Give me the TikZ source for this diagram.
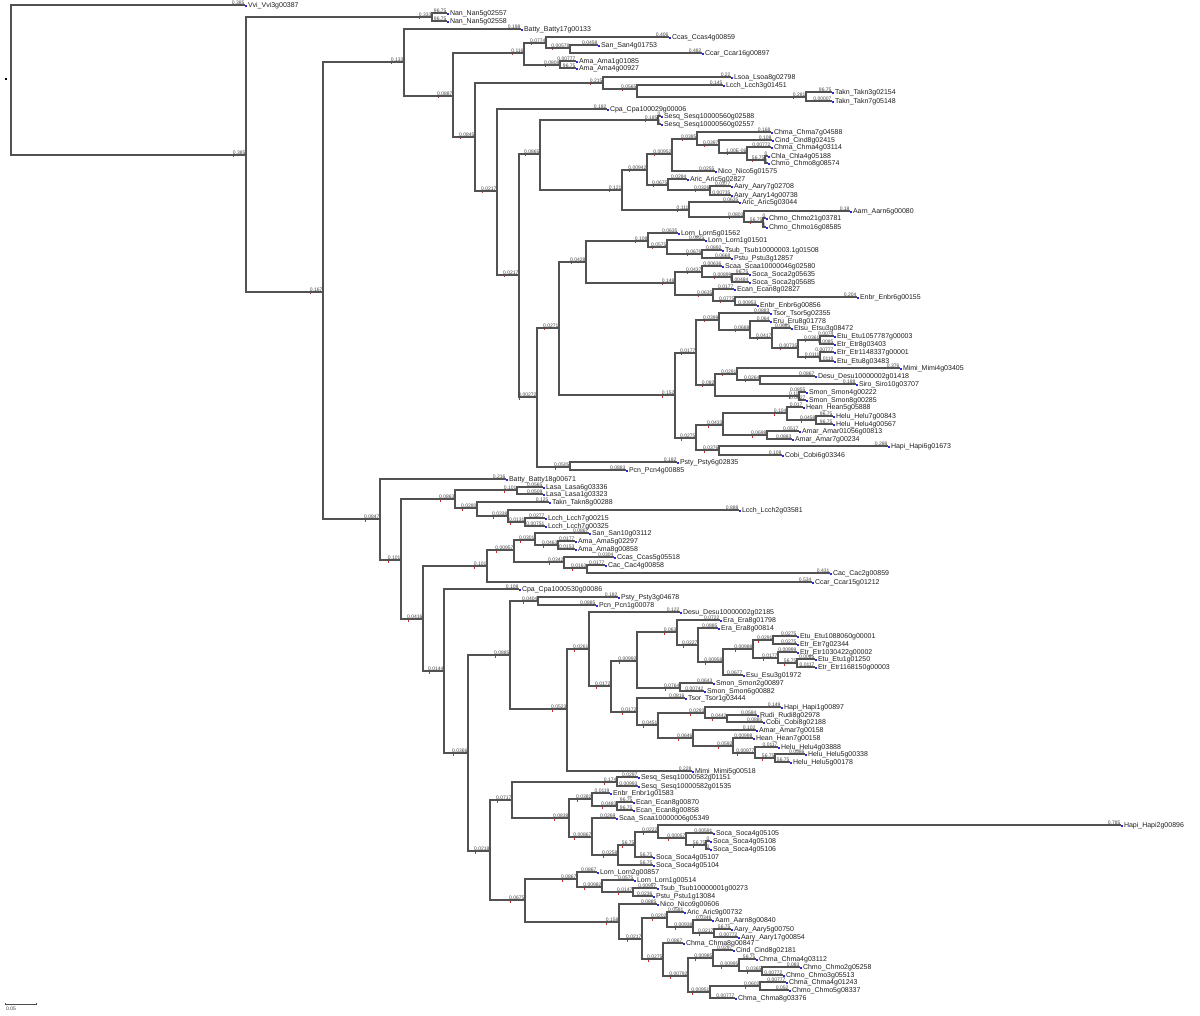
\documentclass[tikz,border=0pt]{standalone}
\usepackage{fontspec}
\setmainfont{Liberation Sans}
\definecolor{leafblue}{RGB}{40,40,220}
\definecolor{tickred}{RGB}{210,40,40}
\tikzset{
  br/.style={draw=black!68, line width=1.15pt},
  blab/.style={font=\fontsize{5}{5}\selectfont, text=black!75, inner sep=0.3pt, anchor=south east},
  ltxt/.style={font=\fontsize{7}{7}\selectfont, text=black!88, inner sep=0pt, anchor=mid west},
}
\newcommand\Tnode[5]{%
  \coordinate (#2) at (#3,#4);
  \draw[br] (#1) |- (#2);
  \node[blab] (#2l) at (#2) {#5};
  \fill[tickred] ([shift={(0.8pt,-0.9pt)}]#2l.south west) rectangle ++(0.9pt,-1.6pt);
}
\newcommand\Tleaf[6]{%
  \coordinate (#2) at (#3,#4);
  \draw[br] (#1) |- (#2);
  \node[blab] (#2l) at (#2) {#5};
  \node[ltxt] (#2t) at (#2) {\textcolor{leafblue}{\rule[0.3pt]{2.2pt}{2.2pt}}\hspace{0.6pt}#6};
}
\begin{document}
\begin{tikzpicture}[x=1pt,y=-1pt]
\fill[white] (0,0) rectangle (1200,1016);
\useasboundingbox (0,0) rectangle (1200,1016);
\coordinate (root) at (11,80);
\node[fill=black, inner sep=0pt, minimum size=2.4pt] (rootmark) at (6,79) {};
\Tleaf{root}{vvi}{245}{5}{0.385}{Vvi\_Vvi3g00387}
\Tnode{root}{A}{246}{155}{0.385}
\Tnode{A}{B}{432}{17}{0.333}
\Tleaf{B}{nan1}{447}{13}{96.75}{Nan\_Nan5g02557}
\Tleaf{B}{nan2}{447}{21}{96.75}{Nan\_Nan5g02558}
\Tnode{A}{C}{323}{292}{0.167}
\Tnode{C}{D}{404}{62}{0.133}
\Tleaf{D}{bat1}{521}{29}{0.198}{Batty\_Batty17g00133}
\Tnode{D}{E}{453}{96}{0.0887}
\Tnode{E}{F}{524}{53}{0.116}
\Tnode{F}{G}{546}{43}{0.0774}
\Tleaf{G}{ccas1}{669}{37}{0.406}{Ccas\_Ccas4g00859}
\Tnode{G}{GA}{570}{48}{0.00578}
\Tleaf{GA}{san1}{598}{45}{0.0458}{San\_San4g01753}
\Tleaf{GA}{ccar1}{702}{53}{0.482}{Ccar\_Ccar16g00897}
\Tnode{F}{GB}{560}{65}{0.0808}
\Tleaf{GB}{ama1}{576}{61}{0.00777}{Ama\_Ama1g01085}
\Tleaf{GB}{ama2}{576}{68}{96.75}{Ama\_Ama4g00927}
\Tnode{E}{I}{475}{137}{0.0845}
\Tnode{I}{K}{603}{83}{0.215}
\Tleaf{K}{lsoa1}{731}{77}{0.22}{Lsoa\_Lsoa8g02798}
\Tnode{K}{KA}{637}{89}{0.0565}
\Tleaf{KA}{lcch1}{723}{85}{0.145}{Lcch\_Lcch3g01451}
\Tnode{KA}{KB}{806}{97}{0.281}
\Tleaf{KB}{tak1}{832}{92}{96.75}{Takn\_Takn3g02154}
\Tleaf{KB}{tak2}{832}{101}{0.00007}{Takn\_Takn7g05148}
\Tnode{I}{J}{497}{191}{0.0217}
\Tleaf{J}{cpa1}{607}{109}{0.182}{Cpa\_Cpa100029g00006}
\Tnode{J}{M}{519}{275}{0.0217}
\Tnode{M}{N}{540}{154}{0.0865}
\Tnode{N}{SQ}{658}{120}{0.185}
\Tleaf{SQ}{sesq1}{661}{116}{0}{Sesq\_Sesq10000560g02588}
\Tleaf{SQ}{sesq2}{661}{124}{0}{Sesq\_Sesq10000560g02557}
\Tnode{N}{O}{622}{190}{0.121}
\Tnode{O}{P}{647}{170}{0.00942}
\Tnode{P}{T}{672}{154}{0.00952}
\Tnode{T}{U}{697}{139}{0.0385}
\Tleaf{U}{chma1}{771}{132}{0.168}{Chma\_Chma7g04588}
\Tnode{U}{V}{719}{145}{0.0397}
\Tleaf{V}{cind1}{772}{140}{0.108}{Cind\_Cind8g02415}
\Tnode{V}{W}{747}{153}{1.00E-06}
\Tleaf{W}{chma2}{771}{147}{0.00772}{Chma\_Chma4g03114}
\Tnode{W}{X}{765}{160}{56.75}
\Tleaf{X}{chla1}{768}{156}{0}{Chla\_Chla4g05188}
\Tleaf{X}{chmo1}{768}{163}{0}{Chmo\_Chmo8g08574}
\Tleaf{T}{nico1}{715}{171}{0.0255}{Nico\_Nico5g01575}
\Tnode{P}{Y}{668}{185}{0.0675}
\Tleaf{Y}{aric1}{687}{179}{0.0284}{Aric\_Aric5g02827}
\Tnode{Y}{Z}{710}{190}{0.0326}
\Tleaf{Z}{aary1}{731}{186}{0.0377}{Aary\_Aary7g02708}
\Tleaf{Z}{aary2}{731}{195}{0.00735}{Aary\_Aary14g00738}
\Tnode{O}{Q}{689}{210}{0.111}
\Tleaf{Q}{aric2}{739}{202}{0.0635}{Aric\_Aric5g03044}
\Tnode{Q}{R}{744}{217}{0.0803}
\Tleaf{R}{aarn1}{850}{211}{0.18}{Aarn\_Aarn6g00080}
\Tnode{R}{S}{763}{222}{56.75}
\Tleaf{S}{chmo2}{766}{218}{0}{Chmo\_Chmo21g03781}
\Tleaf{S}{chmo3}{766}{227}{0}{Chmo\_Chmo16g08585}
\Tnode{M}{AJ}{537}{397}{0.00272}
\Tnode{AJ}{AA}{559}{328}{0.0271}
\Tnode{AA}{AB}{586}{262}{0.0428}
\Tnode{AB}{AC}{648}{241}{0.108}
\Tleaf{AC}{lorn1}{678}{233}{0.0635}{Lorn\_Lorn5g01562}
\Tnode{AC}{AD}{667}{247}{0.0575}
\Tleaf{AD}{lorn2}{705}{240}{0.0825}{Lorn\_Lorn1g01501}
\Tnode{AD}{AE}{702}{254}{0.0676}
\Tleaf{AE}{tsub1}{722}{250}{0.0892}{Tsub\_Tsub10000003.1g01508}
\Tleaf{AE}{pstu1}{731}{258}{0.0668}{Pstu\_Pstu3g12857}
\Tnode{AB}{AF}{675}{283}{0.148}
\Tnode{AF}{AG}{702}{272}{0.0437}
\Tleaf{AG}{scaa1}{722}{266}{0.00636}{Scaa\_Scaa10000046g02580}
\Tnode{AG}{AGb}{732}{277}{0.00899}
\Tleaf{AGb}{soca1}{749}{274}{96.75}{Soca\_Soca2g05635}
\Tleaf{AGb}{soca2}{749}{282}{0.00484}{Soca\_Soca2g05685}
\Tnode{AF}{AH}{713}{295}{0.0635}
\Tleaf{AH}{ecan1}{734}{289}{0.0177}{Ecan\_Ecan8g02827}
\Tnode{AH}{AI}{735}{301}{0.0775}
\Tleaf{AI}{enbr1}{857}{297}{0.204}{Enbr\_Enbr6g00155}
\Tleaf{AI}{enbr2}{757}{305}{0.00953}{Enbr\_Enbr6g00856}
\Tnode{AA}{AK}{675}{395}{0.152}
\Tnode{AK}{AL}{696}{353}{0.0177}
\Tnode{AL}{AN}{719}{320}{0.0399}
\Tleaf{AN}{tsor1}{770}{313}{0.0883}{Tsor\_Tsor5g02355}
\Tnode{AN}{AO}{750}{330}{0.0688}
\Tleaf{AO}{eru1}{770}{321}{0.064}{Eru\_Eru8g01778}
\Tnode{AO}{AP}{772}{338}{0.0417}
\Tleaf{AP}{etsu1}{791}{328}{0.0685}{Etsu\_Etsu3g08472}
\Tnode{AP}{AQ}{798}{348}{0.00735}
\Tnode{AQ}{AR}{820}{340}{0.0361}
\Tleaf{AR}{etu1}{834}{336}{0.0074}{Etu\_Etu1057787g00003}
\Tleaf{AR}{etr1}{834}{344}{0.0085}{Etr\_Etr8g03403}
\Tnode{AQ}{AS}{820}{357}{0.0111}
\Tleaf{AS}{etr2}{834}{352}{0.00777}{Etr\_Etr1148337g00001}
\Tleaf{AS}{etu2}{834}{361}{0.0119}{Etu\_Etu8g03483}
\Tnode{AL}{AU}{715}{385}{0.082}
\Tnode{AU}{AT}{737}{374}{0.0291}
\Tleaf{AT}{mimi1}{900}{368}{0.376}{Mimi\_Mimi4g03405}
\Tnode{AT}{ATb}{760}{380}{0.0264}
\Tleaf{ATb}{desu1}{815}{376}{0.0867}{Desu\_Desu10000002g01418}
\Tleaf{ATb}{siro1}{856}{384}{0.188}{Siro\_Siro10g03707}
\Tnode{AU}{AV}{799}{396}{0.11}
\Tleaf{AV}{smon1}{806}{392}{0.0855}{Smon\_Smon4g00222}
\Tleaf{AV}{smon2}{806}{400}{0.0627}{Smon\_Smon8g00285}
\Tnode{AK}{AM}{696}{438}{0.0275}
\Tnode{AM}{AW}{723}{425}{0.0433}
\Tnode{AW}{AX}{787}{413}{0.104}
\Tleaf{AX}{hean1}{803}{407}{0.017}{Hean\_Hean5g05888}
\Tnode{AX}{AY}{816}{420}{0.0458}
\Tleaf{AY}{helu1}{833}{416}{96.75}{Helu\_Helu7g00843}
\Tleaf{AY}{helu2}{833}{424}{96.75}{Helu\_Helu4g00567}
\Tnode{AW}{AZ}{767}{435}{0.0698}
\Tleaf{AZ}{amar1}{799}{431}{0.0517}{Amar\_Amar01056g00813}
\Tleaf{AZ}{amar2}{792}{439}{0.0883}{Amar\_Amar7g00234}
\Tnode{AM}{BA}{719}{450}{0.0376}
\Tleaf{BA}{hapi1}{888}{446}{0.288}{Hapi\_Hapi6g01673}
\Tleaf{BA}{cobi1}{782}{455}{0.108}{Cobi\_Cobi6g03346}
\Tnode{AJ}{BB}{570}{467}{0.0505}
\Tleaf{BB}{psty1}{677}{462}{0.182}{Psty\_Psty6g02835}
\Tleaf{BB}{pcn1}{626}{470}{0.0883}{Pcn\_Pcn4g00885}
\Tnode{C}{CA}{380}{519}{0.0847}
\Tleaf{CA}{bat2}{506}{479}{0.216}{Batty\_Batty18g00671}
\Tnode{CA}{CB}{401}{560}{0.101}
\Tnode{CB}{CC}{455}{499}{0.0863}
\Tnode{CC}{CD}{517}{490}{0.101}
\Tleaf{CD}{lasa1}{543}{487}{0.0565}{Lasa\_Lasa6g03336}
\Tleaf{CD}{lasa2}{543}{494}{0.0509}{Lasa\_Lasa1g03323}
\Tnode{CC}{CE}{477}{508}{0.0280}
\Tleaf{CE}{takn3}{549}{502}{0.125}{Takn\_Takn8g00288}
\Tnode{CE}{CF}{508}{516}{0.0338}
\Tleaf{CF}{lcch2}{739}{510}{0.888}{Lcch\_Lcch2g03581}
\Tnode{CF}{CG}{525}{522}{0.0131}
\Tleaf{CG}{lcch3}{545}{518}{0.0277}{Lcch\_Lcch7g00215}
\Tleaf{CG}{lcch4}{545}{526}{0.00751}{Lcch\_Lcch7g00325}
\Tnode{CB}{CH}{423}{619}{0.0416}
\Tnode{CH}{FA}{487}{566}{0.101}
\Tnode{FA}{FB}{514}{550}{0.00957}
\Tnode{FB}{FC}{535}{540}{0.0301}
\Tleaf{FC}{san2}{589}{533}{0.0867}{San\_San10g03112}
\Tnode{FC}{FD}{558}{545}{0.0463}
\Tleaf{FD}{ama3}{575}{541}{0.0177}{Ama\_Ama5g02297}
\Tleaf{FD}{ama4}{575}{549}{0.0153}{Ama\_Ama8g00858}
\Tnode{FB}{FE}{564}{562}{0.0342}
\Tleaf{FE}{ccas2}{614}{557}{0.0304}{Ccas\_Ccas5g05518}
\Tnode{FE}{FF}{587}{568}{0.0163}
\Tleaf{FF}{cac1}{605}{565}{0.0177}{Cac\_Cac4g00858}
\Tleaf{FF}{cac2}{830}{573}{0.431}{Cac\_Cac2g00859}
\Tleaf{FA}{ccar2}{812}{582}{0.534}{Ccar\_Ccar15g01212}
\Tnode{CH}{CI}{444}{671}{0.0144}
\Tleaf{CI}{cpa2}{519}{589}{0.108}{Cpa\_Cpa1000530g00086}
\Tnode{CI}{CJ}{468}{753}{0.0366}
\Tnode{CJ}{CK}{510}{655}{0.0885}
\Tnode{CK}{CM}{538}{601}{0.0404}
\Tleaf{CM}{psty2}{618}{597}{0.182}{Psty\_Psty3g04678}
\Tleaf{CM}{pcn2}{596}{605}{0.0885}{Pcn\_Pcn1g00078}
\Tnode{CK}{CN}{567}{709}{0.0523}
\Tnode{CN}{CO}{589}{649}{0.0261}
\Tleaf{CO}{desu2}{680}{612}{0.122}{Desu\_Desu10000002g02185}
\Tnode{CO}{CP}{611}{686}{0.0172}
\Tnode{CP}{CQ}{637}{661}{0.00992}
\Tnode{CQ}{CR}{677}{632}{0.063}
\Tleaf{CR}{era1}{720}{620}{0.0722}{Era\_Era8g01798}
\Tnode{CR}{CS}{698}{645}{0.0227}
\Tleaf{CS}{era2}{718}{628}{0.0885}{Era\_Era8g00814}
\Tnode{CS}{CT}{723}{662}{0.00958}
\Tnode{CT}{CU}{753}{649}{0.00988}
\Tnode{CU}{CV}{773}{640}{0.0291}
\Tleaf{CV}{etu3}{797}{636}{0.0275}{Etu\_Etu1088060g00001}
\Tleaf{CV}{etr3}{797}{644}{0.0275}{Etr\_Etr7g02344}
\Tnode{CU}{CW}{778}{658}{0.0177}
\Tleaf{CW}{etr4}{797}{652}{0.00999}{Etr\_Etr1030422g00002}
\Tnode{CW}{CX}{797}{663}{56.75}
\Tleaf{CX}{etu4}{815}{659}{0.0085}{Etu\_Etu1g01250}
\Tleaf{CX}{etr5}{815}{667}{0.0117}{Etr\_Etr1168150g00003}
\Tleaf{CT}{esu1}{743}{675}{0.0677}{Esu\_Esu3g01972}
\Tnode{CQ}{CY}{680}{688}{0.0764}
\Tleaf{CY}{smon3}{713}{683}{0.0643}{Smon\_Smon2g00897}
\Tleaf{CY}{smon4}{704}{691}{0.00742}{Smon\_Smon6g00882}
\Tnode{CP}{CZ}{637}{712}{0.0172}
\Tleaf{CZ}{tsor2}{685}{698}{0.0816}{Tsor\_Tsor1g03444}
\Tnode{CZ}{DA}{658}{725}{0.0451}
\Tnode{DA}{DB}{705}{713}{0.0293}
\Tleaf{DB}{hapi2}{781}{707}{0.149}{Hapi\_Hapi1g00897}
\Tnode{DB}{DC}{727}{718}{0.0442}
\Tleaf{DC}{rudi1}{757}{715}{0.0584}{Rudi\_Rudi8g02978}
\Tleaf{DC}{cobi2}{763}{722}{0.0885}{Cobi\_Cobi8g02188}
\Tnode{DA}{DD}{693}{738}{0.0646}
\Tleaf{DD}{amar3}{756}{730}{0.102}{Amar\_Amar7g00158}
\Tnode{DD}{DE}{733}{746}{0.0592}
\Tleaf{DE}{hean2}{753}{738}{0.00998}{Hean\_Hean7g00158}
\Tnode{DE}{DF}{755}{753}{0.00977}
\Tleaf{DF}{helu3}{778}{747}{0.0117}{Helu\_Helu4g03888}
\Tnode{DF}{DH}{775}{758}{56.75}
\Tleaf{DH}{helu4}{805}{754}{0.0586}{Helu\_Helu5g00338}
\Tleaf{DH}{helu5}{790}{762}{56.75}{Helu\_Helu5g00178}
\Tleaf{CN}{mimi2}{692}{771}{0.228}{Mimi\_Mimi5g00518}
\Tnode{CJ}{CL}{490}{851}{0.0218}
\Tnode{CL}{DI}{512}{800}{0.0717}
\Tnode{DI}{DJ}{617}{782}{0.174}
\Tleaf{DJ}{sesq3}{638}{777}{0.0297}{Sesq\_Sesq10000582g01151}
\Tleaf{DJ}{sesq4}{638}{786}{0.00993}{Sesq\_Sesq10000582g01535}
\Tnode{DI}{DK}{569}{818}{0.0838}
\Tnode{DK}{DL}{592}{799}{0.0382}
\Tleaf{DL}{enbr3}{610}{793}{0.0119}{Enbr\_Enbr1g01583}
\Tnode{DL}{DM}{617}{806}{0.0483}
\Tleaf{DM}{ecan2}{633}{802}{96.75}{Ecan\_Ecan8g00870}
\Tleaf{DM}{ecan3}{633}{810}{96.75}{Ecan\_Ecan8g00858}
\Tnode{DK}{DN}{592}{837}{0.00867}
\Tleaf{DN}{scaa2}{616}{818}{0.0269}{Scaa\_Scaa10000006g05349}
\Tnode{DN}{DO}{618}{855}{0.0258}
\Tnode{DO}{DR}{635}{845}{56.75}
\Tnode{DR}{DS}{658}{832}{0.0222}
\Tleaf{DS}{hapi3}{1121}{825}{0.785}{Hapi\_Hapi2g00896}
\Tnode{DS}{DP}{686}{838}{0.00057}
\Tleaf{DP}{soca3}{713}{833}{0.00591}{Soca\_Soca4g05105}
\Tnode{DP}{DQ}{706}{845}{56.75}
\Tleaf{DQ}{soca4}{710}{841}{0}{Soca\_Soca4g05108}
\Tleaf{DQ}{soca5}{710}{849}{0}{Soca\_Soca4g05106}
\Tleaf{DR}{soca6}{653}{857}{56.75}{Soca\_Soca4g05107}
\Tleaf{DO}{soca7}{653}{865}{56.75}{Soca\_Soca4g05104}
\Tnode{CL}{DT}{525}{900}{0.0675}
\Tnode{DT}{DU}{577}{879}{0.0867}
\Tleaf{DU}{lorn3}{597}{872}{0.0867}{Lorn\_Lorn2g00857}
\Tnode{DU}{DV}{602}{887}{0.00982}
\Tleaf{DV}{lorn4}{634}{880}{0.0575}{Lorn\_Lorn1g00514}
\Tnode{DV}{DW}{633}{892}{0.0147}
\Tleaf{DW}{tsub2}{657}{888}{0.00997}{Tsub\_Tsub10000001g00273}
\Tleaf{DW}{pstu2}{653}{896}{0.0236}{Pstu\_Pstu1g13084}
\Tnode{DT}{DX}{619}{922}{0.158}
\Tleaf{DX}{nico2}{657}{904}{0.0885}{Nico\_Nico9g00606}
\Tnode{DX}{DY}{642}{939}{0.0217}
\Tnode{DY}{DZ}{667}{918}{0.0202}
\Tleaf{DZ}{aric3}{684}{912}{0.0581}{Aric\_Aric9g00732}
\Tnode{DZ}{EA}{693}{927}{0.00938}
\Tleaf{EA}{aarn2}{712}{920}{0.0346}{Aarn\_Aarn8g00840}
\Tnode{EA}{EB}{714}{933}{0.0217}
\Tleaf{EB}{aary3}{731}{929}{56.75}{Aary\_Aary5g00750}
\Tleaf{EB}{aary4}{738}{937}{0.00772}{Aary\_Aary17g00854}
\Tnode{DY}{EC}{663}{959}{0.0275}
\Tleaf{EC}{chma3}{683}{943}{0.0867}{Chma\_Chma8g00847}
\Tnode{EC}{ED}{688}{976}{0.00792}
\Tnode{ED}{EE}{713}{958}{0.00985}
\Tleaf{EE}{cind2}{733}{950}{0.0297}{Cind\_Cind8g02181}
\Tnode{EE}{EF}{739}{966}{0.00995}
\Tleaf{EF}{chma4}{756}{959}{56.75}{Chma\_Chma4g03112}
\Tnode{EF}{EG}{762}{971}{0.0365}
\Tleaf{EG}{chmo4}{800}{967}{0.083}{Chmo\_Chmo2g05258}
\Tleaf{EG}{chmo5}{783}{975}{0.00772}{Chmo\_Chmo3g05513}
\Tnode{ED}{EH}{710}{992}{0.00951}
\Tnode{EH}{EI}{760}{986}{0.0602}
\Tleaf{EI}{chma5}{786}{982}{0.00777}{Chma\_Chma4g01243}
\Tleaf{EI}{chmo6}{789}{990}{0.052}{Chmo\_Chmo5g08337}
\Tleaf{EH}{chma6}{735}{998}{0.00777}{Chma\_Chma8g03376}
% scale bar
\coordinate (sba) at (5,1004);
\coordinate (sbb) at (36,1004);
\draw[black!70, line width=0.5pt] (sba) -- (sbb);
\draw[black!70, line width=0.5pt] ([yshift=1pt]sba) -- ([yshift=-1pt]sba);
\draw[black!70, line width=0.5pt] ([yshift=1pt]sbb) -- ([yshift=-1pt]sbb);
\node[font=\fontsize{5}{5}\selectfont, text=black!75, inner sep=0pt, anchor=north west] (sbl) at (6,1007) {0.05};
\end{tikzpicture}
\end{document}
